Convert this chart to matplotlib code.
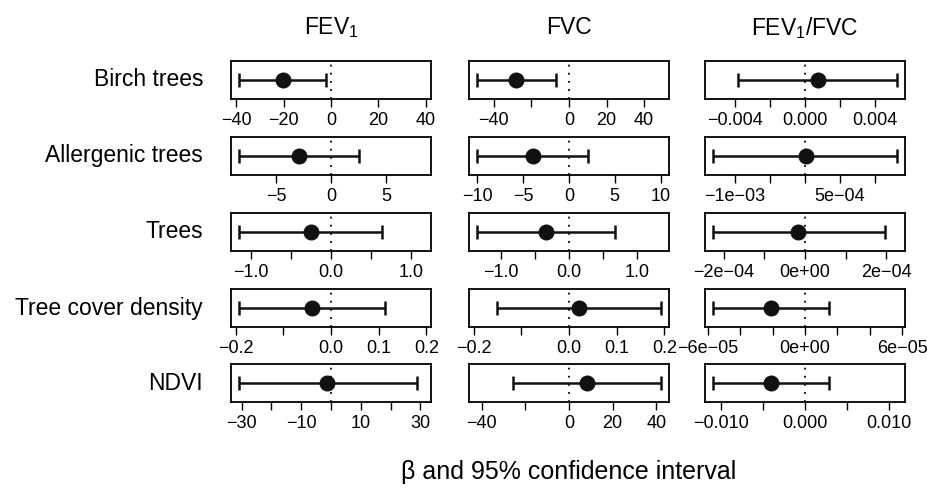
import numpy as np
import matplotlib.pyplot as plt

plt.rcParams["font.family"] = ["Liberation Sans", "DejaVu Sans"]
plt.rcParams["mathtext.default"] = "regular"

exposures = ["Birch trees", "Allergenic trees", "Trees", "Tree cover density", "NDVI"]
outcomes = ["FEV$_1$", "FVC", "FEV$_1$/FVC"]

# beta, lower and upper 95% CI, one value per exposure
fev1_beta = [-20.5, -2.9, -0.25, -0.040, -1.2]
fev1_lo = [-39.1, -8.4, -1.16, -0.194, -31.0]
fev1_hi = [-2.3, 2.5, 0.64, 0.114, 28.7]

fvc_beta = [-28.2, -3.97, -0.34, 0.021, 8.1]
fvc_lo = [-49.2, -10.1, -1.36, -0.151, -25.6]
fvc_hi = [-6.9, 2.06, 0.675, 0.194, 42.4]

ratio_beta = [0.00076, 0.00001, -1.65e-5, -2.12e-5, -0.00398]
ratio_lo = [-0.00382, -1.31e-3, -2.27e-4, -5.71e-5, -0.01098]
ratio_hi = [0.0053, 1.32e-3, 1.96e-4, 1.46e-5, 0.00281]

# tick positions / labels (R drops labels that would overlap)
fev1_ticks = [[-40, -20, 0, 20, 40], [-5, 0, 5], [-1, -0.5, 0, 0.5, 1],
              [-0.2, -0.1, 0, 0.1, 0.2], [-30, -20, -10, 0, 10, 20, 30]]
fev1_labels = [["−40", "−20", "0", "20", "40"], ["−5", "0", "5"],
               ["−1.0", "", "0.0", "", "1.0"], ["−0.2", "", "0.0", "0.1", "0.2"],
               ["−30", "", "−10", "", "10", "", "30"]]
fvc_ticks = [[-40, -20, 0, 20, 40], [-10, -5, 0, 5, 10], [-1, -0.5, 0, 0.5, 1],
             [-0.2, -0.1, 0, 0.1, 0.2], [-40, -20, 0, 20, 40]]
fvc_labels = [["−40", "", "0", "20", "40"], ["−10", "−5", "0", "5", "10"],
              ["−1.0", "", "0.0", "", "1.0"], ["−0.2", "", "0.0", "0.1", "0.2"],
              ["−40", "", "0", "20", "40"]]
ratio_ticks = [[-0.004, -0.002, 0, 0.002, 0.004], [-1e-3, -5e-4, 0, 5e-4, 1e-3],
               [-2e-4, -1e-4, 0, 1e-4, 2e-4], [-6e-5, -4e-5, -2e-5, 0, 2e-5, 4e-5, 6e-5],
               [-0.01, -0.005, 0, 0.005, 0.01]]
ratio_labels = [["−0.004", "", "0.000", "", "0.004"], ["−1e−03", "", "", "5e−04", ""],
                ["−2e−04", "", "0e+00", "", "2e−04"],
                ["−6e−05", "", "", "0e+00", "", "", "6e−05"],
                ["−0.010", "", "0.000", "", "0.010"]]

cols = [
    (fev1_beta, fev1_lo, fev1_hi, fev1_ticks, fev1_labels),
    (fvc_beta, fvc_lo, fvc_hi, fvc_ticks, fvc_labels),
    (ratio_beta, ratio_lo, ratio_hi, ratio_ticks, ratio_labels),
]

W, H = 927, 493
fig = plt.figure(figsize=(W / 100, H / 100), dpi=100)

col_left = [231, 469, 705]
box_w = 200
row_top = [61, 137, 213, 289, 364]
box_h = 38

for j, (beta, lo, hi, ticks, labels) in enumerate(cols):
    for i in range(len(exposures)):
        ax = fig.add_axes([col_left[j] / W, 1 - (row_top[i] + box_h) / H,
                           box_w / W, box_h / H])
        m = max(abs(lo[i]), abs(hi[i])) * 1.04 * 1.04
        ax.set_xlim(-m, m)
        ax.set_ylim(-1, 1)
        ax.axvline(0, color="black", lw=1.3, ls=(0, (1, 3.5)))
        ax.errorbar([beta[i]], [0], xerr=[[beta[i] - lo[i]], [hi[i] - beta[i]]],
                    fmt="o", color="#111111", ms=10.5, elinewidth=1.8,
                    capsize=5, capthick=1.8)
        ax.set_xticks(ticks[i])
        ax.set_xticklabels(labels[i], fontsize=13)
        ax.set_yticks([])
        ax.tick_params(axis="x", direction="out", length=5.5, width=1, pad=4)
        for s in ax.spines.values():
            s.set_linewidth(1.3)
        if j == 0:
            fig.text(203 / W, 1 - (row_top[i] + box_h / 2) / H, exposures[i],
                     ha="right", va="center", fontsize=16.5)
        if i == 0:
            fig.text((col_left[j] + box_w / 2) / W, 1 - 28 / H, outcomes[j],
                     ha="center", va="center", fontsize=16.5)

fig.text(569 / W, 1 - 472 / H, "β and 95% confidence interval",
         ha="center", va="center", fontsize=18)

fig.savefig("out.png", dpi=100)
